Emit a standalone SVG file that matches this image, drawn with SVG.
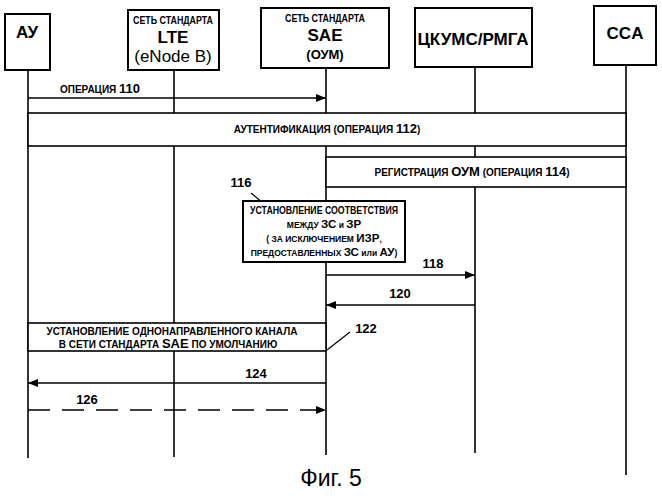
<svg xmlns="http://www.w3.org/2000/svg" width="662" height="500" viewBox="0 0 662 500">
<defs>
<marker id="ah" markerWidth="10" markerHeight="8" refX="10" refY="4" orient="auto" markerUnits="userSpaceOnUse"><path d="M0,0 L10,4 L0,8 Z" fill="#000"/></marker>
</defs>
<style>
.b{fill:#fff;stroke:#000;stroke-width:2}
.l{stroke:#000;stroke-width:1.6;fill:none}
text{font-family:"Liberation Sans",Arial,sans-serif;font-weight:bold;fill:#000;text-anchor:middle}
.s{font-size:10px}
.m{font-size:13px}
.g{font-size:17px}
.n{font-weight:normal}
.bs{font-size:8.5px}
.bm{font-size:11.5px}
</style>
<rect width="662" height="500" fill="#fff"/>
<g id="lifelines">
<line class="l" x1="28" y1="70" x2="28" y2="458"/>
<line class="l" x1="174" y1="70" x2="174" y2="457"/>
<line class="l" x1="326" y1="68" x2="326" y2="455"/>
<line class="l" x1="475" y1="67" x2="475" y2="453"/>
<line class="l" x1="626" y1="65" x2="626" y2="475"/>
</g>
<g id="n-au"><rect class="b" x="5" y="14" width="45" height="56"/><text class="g" x="27" y="38">АУ</text></g>
<g id="n-lte"><rect class="b" x="128" y="10" width="91" height="60"/><text class="s" x="173" y="24" textLength="80" lengthAdjust="spacingAndGlyphs">СЕТЬ СТАНДАРТА</text><text class="g" x="173" y="43">LTE</text><text class="g n" x="173" y="62">(eNode B)</text></g>
<g id="n-sae"><rect class="b" x="261" y="8" width="128" height="60"/><text class="s" x="325" y="22" textLength="80" lengthAdjust="spacingAndGlyphs">СЕТЬ СТАНДАРТА</text><text class="g" x="325" y="41">SAE</text><text class="m" x="325" y="59">(ОУМ)</text></g>
<g id="n-ckums"><rect class="b" x="415" y="8" width="117" height="59"/><text class="g" x="473" y="45">ЦКУМС/РМГА</text></g>
<g id="n-cca"><rect class="b" x="594" y="6" width="62" height="59"/><text class="g" x="625" y="39">CCA</text></g>
<g id="connectors">
<line class="l" x1="28" y1="98" x2="326" y2="98" marker-end="url(#ah)"/>
<text class="s" x="100" y="93">ОПЕРАЦИЯ <tspan class="m">110</tspan></text>
<rect class="b" x="28" y="113" width="598" height="33" style="stroke-width:1.6"/>
<text class="s" x="327" y="133">АУТЕНТИФИКАЦИЯ (ОПЕРАЦИЯ <tspan class="m">112</tspan>)</text>
<rect class="b" x="326" y="157" width="300" height="30" style="stroke-width:1.6"/>
<text class="s" x="472" y="176">РЕГИСТРАЦИЯ  <tspan class="m">ОУМ</tspan> (ОПЕРАЦИЯ <tspan class="m">114</tspan>)</text>
<text class="m" x="241" y="187">116</text>
<line class="l" x1="251" y1="193" x2="263" y2="203" style="stroke-width:1.2"/>
<rect class="b" x="243" y="201" width="162" height="61"/>
<text class="s" x="324" y="214" textLength="148" lengthAdjust="spacingAndGlyphs">УСТАНОВЛЕНИЕ СООТВЕТСТВИЯ</text>
<text class="bs" x="324" y="228">МЕЖДУ <tspan class="bm">ЗС</tspan> и <tspan class="bm">ЗР</tspan></text>
<text class="bs" x="324" y="242">( ЗА ИСКЛЮЧЕНИЕМ <tspan class="bm">ИЗР</tspan>,</text>
<text class="bs" x="324" y="256">ПРЕДОСТАВЛЕННЫХ <tspan class="bm">ЗС</tspan> или <tspan class="bm">АУ</tspan>)</text>
<line class="l" x1="326" y1="275" x2="475" y2="275" marker-end="url(#ah)"/>
<text class="m" x="433" y="268">118</text>
<line class="l" x1="475" y1="305" x2="326" y2="305" marker-end="url(#ah)"/>
<text class="m" x="400" y="298">120</text>
<rect class="b" x="28" y="323" width="298" height="28" style="stroke-width:1.6"/>
<text class="s" x="172" y="335">УСТАНОВЛЕНИЕ ОДНОНАПРАВЛЕННОГО КАНАЛА</text>
<text class="s" x="168" y="348">В СЕТИ СТАНДАРТА  <tspan class="m">SAE</tspan>  ПО УМОЛЧАНИЮ</text>
<text class="m" x="366" y="333">122</text>
<line class="l" x1="327" y1="350" x2="350" y2="332" style="stroke-width:1.2"/>
<line class="l" x1="326" y1="383" x2="28" y2="383" marker-end="url(#ah)"/>
<text class="m" x="256" y="378">124</text>
<line class="l" x1="28" y1="410" x2="326" y2="410" stroke-dasharray="22,12" marker-end="url(#ah)"/>
<text class="m" x="87" y="404">126</text>
</g>
<text x="331" y="486" style="font-size:23px;font-weight:normal">Фиг. 5</text>
</svg>
